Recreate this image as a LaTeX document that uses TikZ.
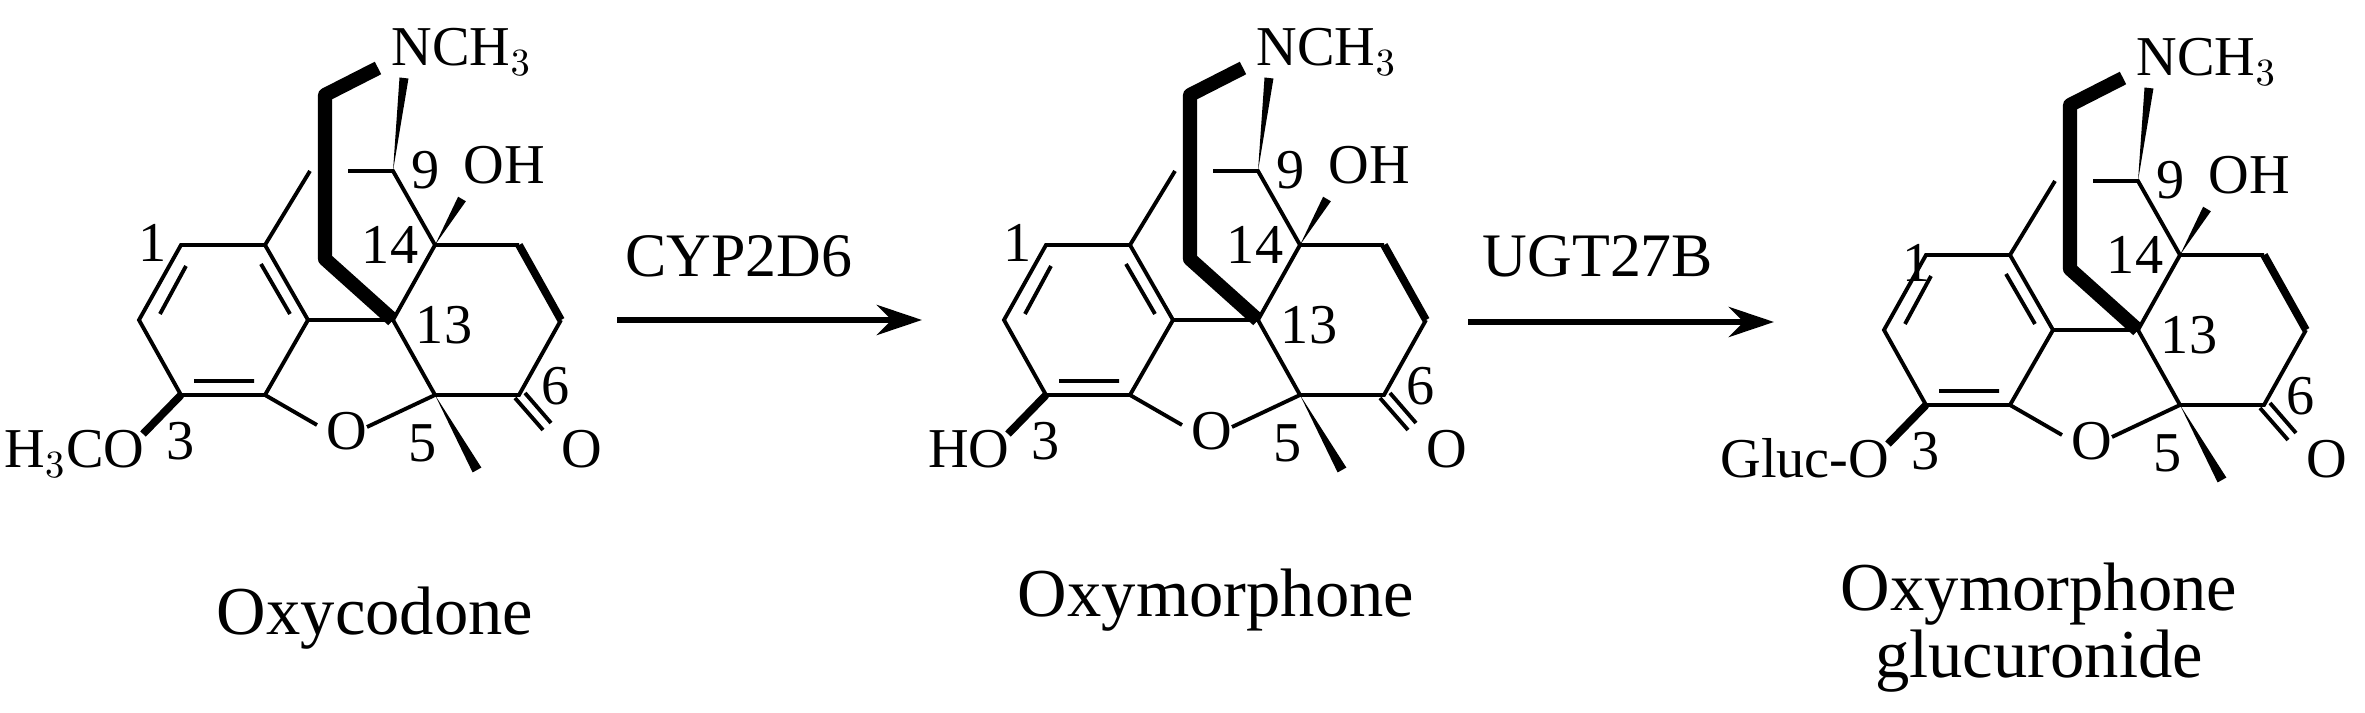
\documentclass[tikz,border=0pt]{standalone}
\usepackage{fontspec}
\setmainfont{Liberation Serif}
\usetikzlibrary{calc,arrows.meta}
\tikzset{
  thin bond/.style={line width=1.1pt},
  bold bond/.style={line width=4pt,line join=round},
  mid bond/.style={line width=2.2pt},
  atom/.style={inner sep=0pt,font=\fontsize{16}{18}\selectfont},
  cname/.style={inner sep=0pt,font=\fontsize{19.5}{23}\selectfont,align=center},
  enz/.style={inner sep=0pt,font=\fontsize{17.6}{20}\selectfont,anchor=base},
  rxn/.style={line width=1.8pt,-{Stealth[length=0.45cm,width=0.3cm]}}
}
\newcommand\wdg[3]{\fill (#1) -- ($(#2)!#3!90:(#1)$) -- ($(#2)!#3!-90:(#1)$) -- cycle;}
\newcommand\molecule[3]{%
\begin{scope}[shift={#1}]
  \coordinate (c1) at (181,245); \coordinate (ca) at (265,245);
  \coordinate (cb) at (308,320); \coordinate (cc) at (265,395);
  \coordinate (c3) at (181,395); \coordinate (cd) at (139,320);
  \coordinate (c13) at (393,320); \coordinate (c14) at (435,245);
  \coordinate (c9) at (393,171); \coordinate (c5) at (435,395);
  \coordinate (c15) at (519,245); \coordinate (c16) at (561,320);
  \coordinate (c6) at (519,395);
  \coordinate (nw) at (404,78); \coordinate (ow) at (462,199); \coordinate (mw) at (477,470);
  \draw[thin bond] (c1) -- (ca) -- (cb) -- (cc) -- (c3) -- (cd) -- cycle;
  \draw[thin bond] (186,266) -- (160,314) (261,264) -- (290,314) (194,381) -- (254,381);
  \draw[thin bond] (ca) -- (310,171);
  \draw[thin bond] (cc) -- (317,425) (367,427) -- (c5);
  \draw[thin bond] (cb) -- (c13) -- (c5) (c13) -- (c14) -- (c9) -- (348,171);
  \draw[thin bond] (c14) -- (c15) (c16) -- (c6) -- (c5);
  \draw[mid bond] (c15) -- (c16);
  \draw[thin bond] (515,398) -- (543,430) (525,393) -- (551,423);
  \draw[mid bond] (c3) -- (143,434);
  \draw[bold bond] (c13) -- (325,259) -- (325,95) -- (378,68);
  \wdg{c9}{nw}{0.045cm}
  \wdg{c14}{ow}{0.045cm}
  \wdg{c5}{mw}{0.05cm}
  \node[atom,anchor=base west] at (391,66) {NCH$_3$};
  \node[atom,anchor=base west] at (463,184) {OH};
  \node[atom,anchor=base] at (582,468) {O};
  \node[atom,anchor=base] at (347,450) {O};
  \node[atom,anchor=base east] at (145,468) {#2};
  \node[atom] at #3 {1};
  \node[atom] at (390,245) {14};
  \node[atom] at (426,170) {9};
  \node[atom] at (444,325) {13};
  \node[atom] at (423,443) {5};
  \node[atom] at (181,441) {3};
  \node[atom] at (556,386) {6};
\end{scope}}
\begin{document}
\begin{tikzpicture}[x=0.01cm,y=-0.01cm]
\useasboundingbox (0,0) rectangle (2365,713);
\molecule{(0,0)}{H$_3$CO}{(153,243)}
\molecule{(865,0)}{HO}{(153,243)}
\molecule{(1745,10)}{Gluc-O}{(172,253)}
\node[cname] (n1) at (375,618) {Oxycodone};
\node[cname] (n2) at (1216,600) {Oxymorphone};
\node[cname] (n3) at (2039,628) {Oxymorphone\\[-4pt]glucuronide};
\coordinate (a1s) at (617,320); \coordinate (a1e) at (922,320);
\coordinate (a2s) at (1468,322); \coordinate (a2e) at (1774,322);
\draw[rxn] (a1s) -- (a1e);
\draw[rxn] (a2s) -- (a2e);
\node[enz] (e1) at (739,277) {CYP2D6};
\node[enz] (e2) at (1598,277) {UGT27B};
\end{tikzpicture}
\end{document}
